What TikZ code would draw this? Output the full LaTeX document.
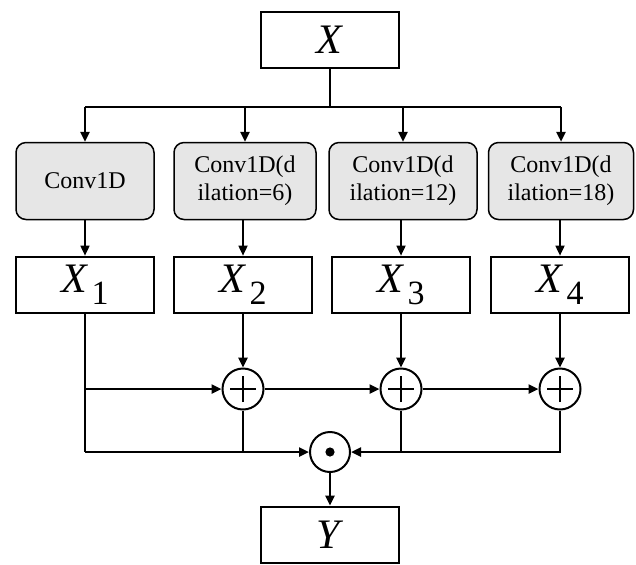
\documentclass[tikz,border=0pt]{standalone}
\usepackage{fontspec}
\setmainfont{Liberation Serif}
\usetikzlibrary{arrows.meta}
\definecolor{convgray}{HTML}{E6E6E6}
\newcommand{\feat}[1]{\textit{X}\kern1.5pt\raisebox{-6pt}{\fontsize{17}{17}\selectfont #1}}

\begin{document}
\begin{tikzpicture}[x=0.5pt,y=-0.5pt,
  varbox/.style={draw, line width=1.35pt, minimum width=69pt, minimum height=28pt, inner sep=0pt, font=\fontsize{21}{21}\selectfont},
  convbox/.style={draw, line width=0.75pt, rounded corners=5pt, fill=convgray, minimum height=38.5pt, inner sep=0pt, align=center, font=\fontsize{12}{14}\selectfont},
  sumnode/.style={draw, circle, line width=1pt, minimum size=20.5pt, inner sep=0pt,
    path picture={\draw[line width=1.1pt] ([xshift=-6.5pt]path picture bounding box.center) -- ([xshift=6.5pt]path picture bounding box.center);
      \draw[line width=1.1pt] ([yshift=-6.5pt]path picture bounding box.center) -- ([yshift=6.5pt]path picture bounding box.center);}},
  prodnode/.style={draw, circle, line width=1pt, minimum size=20pt, inner sep=0pt,
    path picture={\fill (path picture bounding box.center) circle (2.3pt);}},
  wire/.style={line width=1.2pt},
  arr/.style={-{Triangle[length=5pt,width=4.5pt]}, line width=1.2pt},
  thinarr/.style={-{Triangle[length=5pt,width=4.5pt]}, line width=0.85pt}]
  \useasboundingbox (0,0) rectangle (636,564);

  % input and branches
  \node[varbox] (x) at (330,40) {\textit{X}};
  \node[convbox, minimum width=69pt] (c1) at (85,181) {Conv1D};
  \node[convbox, minimum width=71pt] (c2) at (245,181) {Conv1D(d\\ilation=6)};
  \node[convbox, minimum width=74pt] (c3) at (403,181) {Conv1D(d\\ilation=12)};
  \node[convbox, minimum width=72.5pt] (c4) at (561,181) {Conv1D(d\\ilation=18)};
  \coordinate (split) at (330,107);
  \draw[wire] (x.south) -- (split);
  \draw[wire] (split -| c1.north) -- (split -| c4.north);
  \foreach \i in {1,...,4}
    \draw[arr] (split -| c\i.north) -- (c\i.north);

  % branch outputs
  \foreach \i/\cx in {1/85,2/243,3/401,4/560}
    \node[varbox] (x\i) at (\cx,285) {\feat{\i}};
  \foreach \i in {1,...,4}
    \draw[thinarr] (x\i.north |- c\i.south) -- (x\i.north);

  % fusion
  \foreach \i/\cx in {2/243,3/401,4/560}
    \node[sumnode] (s\i) at (\cx,389) {};
  \node[prodnode] (p) at (330,452) {};
  \node[varbox] (y) at (330,535) {\textit{Y}};
  \foreach \i in {2,3,4}
    \draw[arr] (x\i.south) -- (s\i.north);
  \draw[wire] (x1.south) -- (x1.south |- p.west);
  \draw[arr] (x1.south |- s2.west) -- (s2.west);
  \draw[arr] (s2) -- (s3);
  \draw[arr] (s3) -- (s4);
  \draw[arr] (x1.south |- p.west) -- (p.west);
  \draw[wire] (s2.south) -- (s2.south |- p.west);
  \draw[wire] (s3.south) -- (s3.south |- p.east);
  \draw[arr] (s4.south) |- (p.east);
  \draw[arr] (p.south) -- (y.north);
\end{tikzpicture}
\end{document}
